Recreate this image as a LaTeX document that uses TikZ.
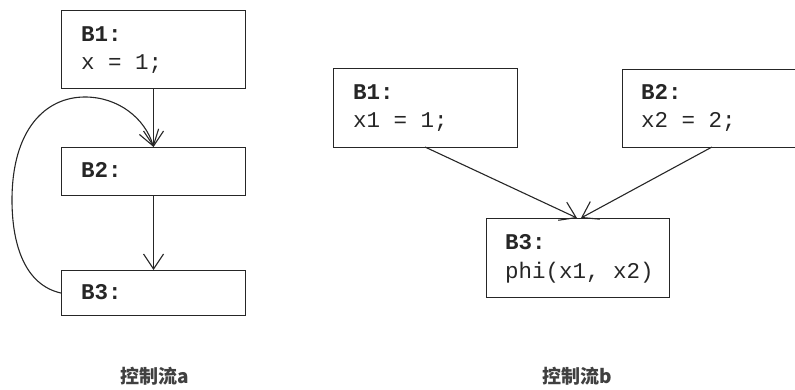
\documentclass[tikz,border=0pt]{standalone}
\usepackage{fontspec}
\setmonofont{Liberation Mono}
\newfontfamily\cjk{Noto Sans CJK SC}
\usetikzlibrary{arrows.meta}
\begin{document}
\begin{tikzpicture}[x=1pt,y=-1pt,
  box/.style={draw=black!85, line width=1.1pt, rectangle, inner sep=0pt, anchor=north west},
  code/.style={font=\ttfamily\fontsize{22.5}{28}\selectfont, inner sep=0pt, anchor=base west, text=black!85},
  conn/.style={draw=black!85, line width=1.1pt, -{Straight Barb[length=15pt,width=20pt,line width=1.1pt]}},
  captext/.style={font=\cjk\bfseries\fontsize{19}{21}\selectfont, inner sep=0pt, text=black!75}]
\useasboundingbox (0,0) rectangle (795,390);
\clip (0,0) rectangle (795,390);
% left graph
\node[box, minimum width=184pt, minimum height=78pt] (b1a) at (61,10) {};
\node[box, minimum width=184pt, minimum height=48pt] (b2a) at (61,147) {};
\node[box, minimum width=184pt, minimum height=45pt] (b3a) at (61,270) {};
\node[code] (t1a) at (81,42) {\textbf{B1:}};
\node[code] (t1b) at (81,70) {x = 1;};
\node[code] (t2a) at (81,178) {\textbf{B2:}};
\node[code] (t3a) at (81,299) {\textbf{B3:}};
\draw[conn] (b1a.south) -- (b2a.north);
\draw[conn] (b2a.south) -- (b3a.north);
\draw[conn] (b3a.west) .. controls (25,285) and (12,245) .. (12,200)
  .. controls (12,130) and (45,97) .. (85,97)
  .. controls (118,97) and (145,118) .. (b2a.north);
% right graph
\node[box, minimum width=184pt, minimum height=79pt] (b1b) at (333,68) {};
\node[box, minimum width=200pt, minimum height=78pt] (b2b) at (622,69) {};
\node[box, minimum width=183pt, minimum height=79pt] (b3b) at (486,218) {};
\node[code] (u1a) at (353,100) {\textbf{B1:}};
\node[code] (u1b) at (353,128) {x1 = 1;};
\node[code] (u2a) at (641,100) {\textbf{B2:}};
\node[code] (u2b) at (641,128) {x2 = 2;};
\node[code] (u3a) at (505,250) {\textbf{B3:}};
\node[code] (u3b) at (505,278) {phi(x1, x2)};
\coordinate (s1) at (425,147);
\coordinate (s2) at (712,147);
\coordinate (e1) at (577,218);
\coordinate (e2) at (581,218);
\draw[conn] (s1) -- (e1);
\draw[conn] (s2) -- (e2);
% captions
\node[captext] (ca) at (155,376) {控制流a};
\node[captext] (cb) at (577,376) {控制流b};
\end{tikzpicture}
\end{document}
